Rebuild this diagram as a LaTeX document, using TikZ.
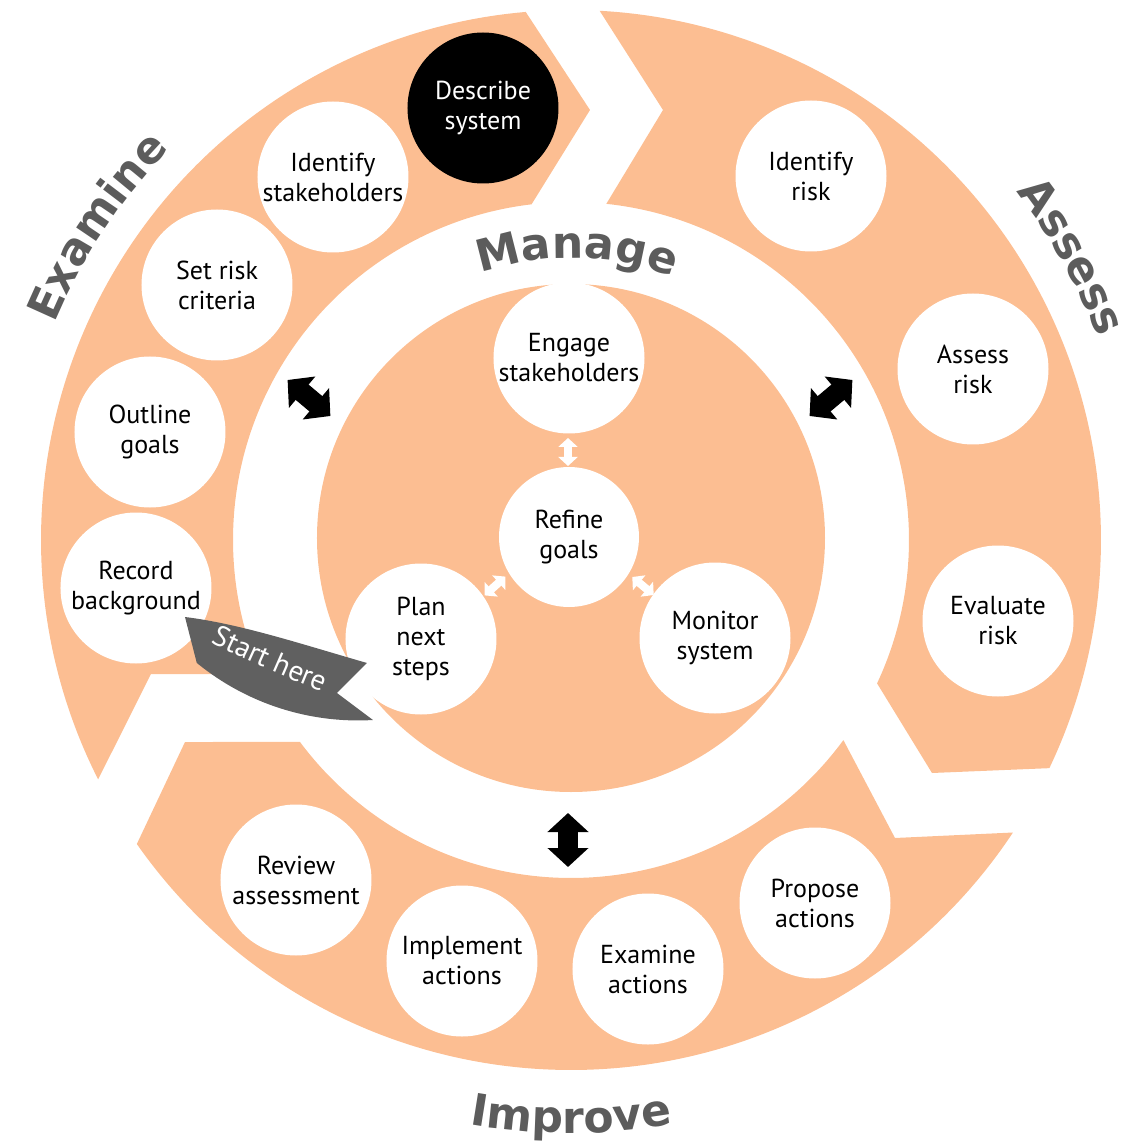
\documentclass[tikz,border=0pt]{standalone}
\usepackage{fontspec}
\setmainfont{PT Sans}
\newfontfamily\bandfont{DejaVu Sans}
\usetikzlibrary{arrows.meta,decorations.text}
\definecolor{ringorange}{RGB}{252,190,146}
\definecolor{labelgray}{RGB}{92,92,92}
\definecolor{bannergray}{RGB}{96,96,96}
\tikzset{
  seg/.style={fill=ringorange, draw=none},
  stepnode/.style={circle, fill=white, minimum size=151pt, inner sep=0pt, align=center,
    font=\fontsize{26}{30}\selectfont, text=black},
  keynode/.style={stepnode, fill=black, text=white},
  bigarrow/.style={draw=black, line width=20pt,
    {Triangle[length=19pt,width=40pt]}-{Triangle[length=19pt,width=40pt]}},
  smallarrow/.style={draw=white, line width=8pt,
    {Triangle[length=9pt,width=19pt]}-{Triangle[length=9pt,width=19pt]}},
  phase/.style={decorate, decoration={text along path, text align=center,
    text={|\bandfont\bfseries\fontsize{44}{48}\selectfont\color{labelgray}|#1}}},
}
\begin{document}
\begin{tikzpicture}[x=1pt,y=1pt]
\useasboundingbox (-571,-606) rectangle (549,540);

% outer ring: three chevron segments
\fill[seg] (206.85:530) arc[start angle=206.85, end angle=94.9, radius=530]
  -- (19,430) -- (96.7:338) arc[start angle=96.7, end angle=203.4, radius=338]
  -- (-420,-134) -- cycle;
\fill[seg] (86.9:530) arc[start angle=86.9, end angle=-25.5, radius=530]
  -- (361,-233) -- (-25.1:338) arc[start angle=-25.1, end angle=84, radius=338]
  -- (92,430) -- cycle;
\fill[seg] (-33.5:530) arc[start angle=-33.5, end angle=-145, radius=530]
  -- (-386,-202) -- (-143.3:338) arc[start angle=-143.3, end angle=-36.3, radius=338]
  -- (324,-298) -- cycle;

% inner disc
\fill[seg] (0,2) circle[radius=254];

% phase labels
\path[phase=Manage] (118.8:282) arc[start angle=118.8, end angle=58.8, radius=282];
\path[phase=Examine] (176.5:560) arc[start angle=176.5, end angle=116.5, radius=560];
\path[phase=Assess] (59.5:565) arc[start angle=59.5, end angle=-0.5, radius=565];
\path[phase=Improve] (-120:593) arc[start angle=-120, end angle=-60, radius=593];

% Examine steps
\node[keynode] (describe) at (-88,432) {Describe\\system};
\node[stepnode] (idstake) at (-238,363) {Identify\\stakeholders};
\node[stepnode] (criteria) at (-354,255) {Set risk\\criteria};
\node[stepnode] (outline) at (-421,108) {Outline\\goals};
\node[stepnode] (record) at (-435,-48) {Record\\background};
% Assess steps
\node[stepnode] (idrisk) at (240,364) {Identify\\risk};
\node[stepnode] (assrisk) at (402,171) {Assess\\risk};
\node[stepnode] (evalrisk) at (427,-81) {Evaluate\\risk};
% Improve steps
\node[stepnode] (propose) at (244,-363) {Propose\\actions};
\node[stepnode] (examact) at (77,-429) {Examine\\actions};
\node[stepnode] (implement) at (-109,-421) {Implement\\actions};
\node[stepnode] (review) at (-275,-340) {Review\\assessment};
% Manage steps
\node[stepnode] (engage) at (-2,182) {Engage\\stakeholders};
\node[stepnode, minimum size=140pt] (refine) at (-2,3) {Refine\\goals};
\node[stepnode] (plan) at (-150,-99) {Plan\\next\\steps};
\node[stepnode] (monitor) at (144,-98) {Monitor\\system};

% links between the ring and the centre
\coordinate (la) at (-283.4,160);
\coordinate (lb) at (-240.6,124);
\coordinate (ra) at (238.6,124);
\coordinate (rb) at (281.4,160);
\coordinate (ba) at (-3,-273);
\coordinate (bb) at (-3,-327);
\draw[bigarrow] (la) -- (lb);
\draw[bigarrow] (ra) -- (rb);
\draw[bigarrow] (ba) -- (bb);

% links inside the centre
\coordinate (ea) at (-3,102);
\coordinate (eb) at (-3,74);
\coordinate (pa) at (-86.4,-55.4);
\coordinate (pb) at (-65.6,-36.6);
\coordinate (ma) at (61.3,-37);
\coordinate (mb) at (82.7,-55);
\draw[smallarrow] (ea) -- (eb);
\draw[smallarrow] (pa) -- (pb);
\draw[smallarrow] (ma) -- (mb);

% start banner
\fill[bannergray] (-386,-77) .. controls (-330,-84) and (-270,-104) .. (-204,-123)
  -- (-234,-153) -- (-198,-180) arc[start angle=-86.6, end angle=-129.3, radius=254.4]
  -- cycle;
\path[decorate, decoration={text along path, text align=center,
  text={|\fontsize{29}{32}\selectfont\color{white}|Start here}}]
  (-378,-94) .. controls (-338,-114) and (-275,-143) .. (-230,-159);
\end{tikzpicture}
\end{document}
